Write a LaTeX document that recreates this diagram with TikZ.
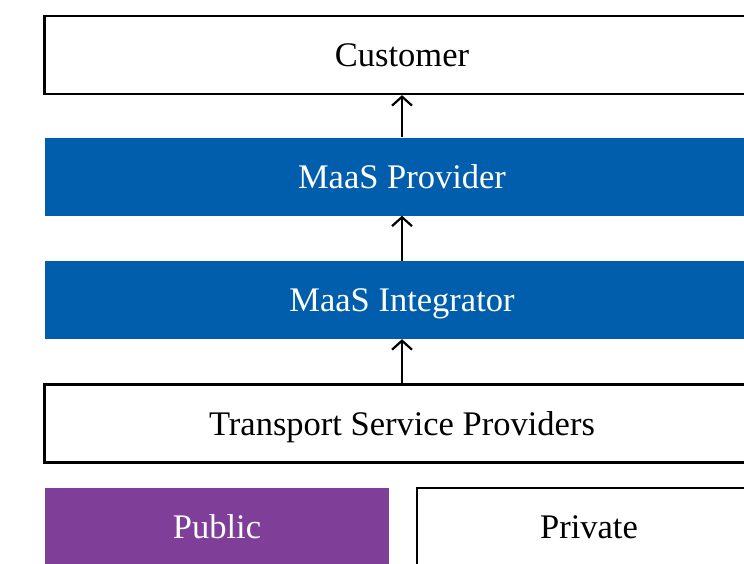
\documentclass[tikz,border=0pt]{standalone}
\usepackage{fontspec}
\setmainfont{Liberation Serif}
\usetikzlibrary{arrows.meta}

\definecolor{maasblue}{RGB}{0,94,172}
\definecolor{pubpurple}{RGB}{127,63,152}

\tikzset{
    layer/.style={rectangle, minimum width=715pt, minimum height=78pt,
        inner sep=0pt, text height=23pt, text depth=0pt,
        font=\fontsize{34.5}{40}\selectfont},
    whitebox/.style={layer, draw=black, line width=2.3pt, fill=white},
    bluebox/.style={layer, fill=maasblue, text=white},
    halfbox/.style={layer, minimum width=344pt},
    flow/.style={-{Straight Barb[length=9pt,width=20pt]}, line width=2.2pt}
}

\begin{document}
\begin{tikzpicture}[x=1pt, y=-1pt]

        % ==== FRAME ====
        \useasboundingbox (0,0) rectangle (744,563);
        \clip (0,0) rectangle (744,563);

        % ==== LAYERS ====
        \node[whitebox] (customer) at (402,55) {Customer};
        \node[bluebox] (provider) at (402,176.5) {MaaS Provider};
        \node[bluebox] (integrator) at (402,300) {MaaS Integrator};
        \node[whitebox] (tsp) at (402,423.5) {Transport Service Providers};

        % ==== PUBLIC / PRIVATE ====
        \node[halfbox, fill=pubpurple, text=white] (public) at (217,527) {Public};
        \node[halfbox, draw=black, line width=2.3pt] (private) at (589,527) {Private};

        % ==== ARROWS ====
        \draw[flow] (provider.north) -- (customer.south);
        \draw[flow] (integrator.north) -- (provider.south);
        \draw[flow] (tsp.north) -- (integrator.south);

    \end{tikzpicture}
\end{document}
